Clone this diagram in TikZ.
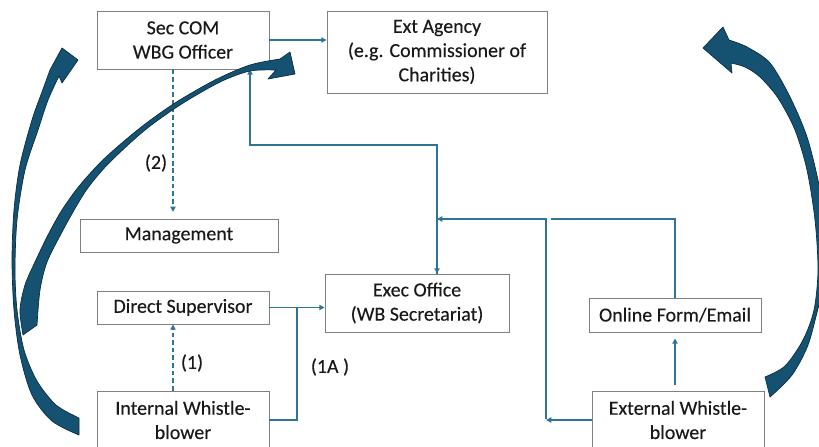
\documentclass[tikz,border=0pt]{standalone}
\usepackage{fontspec}
\setmainfont{Carlito}
\newfontfamily\boxfont{Carlito}[FakeBold=0.2]
\usetikzlibrary{arrows.meta,calc}
\definecolor{connc}{RGB}{46,116,150}
\definecolor{bigfill}{RGB}{21,82,114}
\definecolor{bigline}{RGB}{10,45,66}
\definecolor{boxline}{RGB}{128,128,128}
\definecolor{txt}{RGB}{25,25,25}
\begin{document}
\begin{tikzpicture}[x=0.03cm,y=-0.03cm,
  box/.style={draw=boxline,line width=0.8pt,fill=white,inner sep=0pt,align=center,text=txt,font=\boxfont\fontsize{17}{20.7}\selectfont},
  conn/.style={draw=connc,line width=1.2pt},
  tip/.style={-{Triangle[length=4.5pt,width=4.5pt]}},
  dsh/.style={dash pattern=on 4pt off 2.5pt},
  big/.style={fill=bigfill,draw=bigline,line width=0.6pt,line join=round},
  lbl/.style={text=txt,inner sep=0pt,font=\boxfont\fontsize{17}{20.7}\selectfont}]
\useasboundingbox (0,0) rectangle (819,446);
\clip (0,0) rectangle (819,446);
\fill[white] (0,0) rectangle (819,446);

% boxes
\node[box,minimum width=5.16cm,minimum height=1.74cm] (seccom) at (183,40) {Sec COM\\WBG Officer};
\node[box,minimum width=6.6cm,minimum height=2.46cm] (ext) at (437,52) {Ext Agency\\(e.g. Commissioner of\\Charities)};
\node[box,minimum width=5.94cm,minimum height=0.99cm] (mgmt) at (179,235.5) {Management};
\node[box,minimum width=5.16cm,minimum height=0.99cm] (dsup) at (183,307.5) {Direct Supervisor};
\node[box,minimum width=5.52cm,minimum height=1.74cm] (exec) at (417,303) {Exec Office\\(WB Secretariat)};
\node[box,minimum width=5.16cm,minimum height=1.74cm] (iwb) at (183,420) {Internal Whistle-\\blower};
\node[box,minimum width=5.16cm,minimum height=1.02cm] (online) at (675,315) {Online Form/Email};
\node[box,minimum width=5.16cm,minimum height=1.74cm] (ewb) at (678,420) {External Whistle-\\blower};

% coordinates
\coordinate (dx) at (173,0);
\coordinate (k1) at (437,145);
\coordinate (k2) at (250,145);
\coordinate (j) at (437,219);
\coordinate (o1) at (675,219);
\coordinate (o2) at (551,219);
\coordinate (e1) at (546,419);
\coordinate (e2) at (546,219);
\coordinate (m1) at (297,0);

% connectors
\draw[conn,tip] (seccom.east) -- (seccom.east -| ext.west);
\draw[conn,dsh,tip,shorten >=0.2cm] (seccom.south -| dx) -- (mgmt.north -| dx);
\draw[conn,dsh,tip] (iwb.north -| dx) -- (dsup.south -| dx);
\draw[conn,tip] (exec.north -| k1) -- (k1) -- (k2) -- (seccom.south -| k2);
\draw[conn,tip] (j) -- (exec.north -| j);
\draw[conn] (online.north -| o1) -- (o1) -- (o2);
\draw[conn,tip] (ewb.west) -- (ewb.west -| e1);
\draw[conn,tip] (e1) -- (e2) -- (j);
\draw[conn,tip,shorten <=0.18cm,shorten >=0.18cm] (ewb.north -| o1) -- (online.south -| o1);
\draw[conn,tip] (dsup.east) -- (dsup.east -| exec.west);
\draw[conn] (iwb.east) -| (m1 |- dsup.east);

% labels
\node[lbl] (l2) at (156,163) {(2)};
\node[lbl] (l1) at (192,363) {(1)};
\node[lbl] (l1a) at (330,367) {(1A )};

% big curved arrow B (left middle to top)
\filldraw[big] plot[smooth] coordinates {(23,335) (20,310) (25,285) (35,262) (48,235) (62,210) (80,185) (105,158) (140,128) (175,103) (215,80) (250,65) (280,59)}
  -- (290,52) -- (295,74) -- (268,79) -- (276,70)
  -- plot[smooth] coordinates {(276,70) (250,71) (220,82) (180,105) (145,130) (110,162) (90,185) (77,205) (62,232) (47,262) (40,290) (37,325)}
  -- cycle;
% big curved arrow A (internal whistle-blower to Sec COM)
\filldraw[big] plot[smooth] coordinates {(79,435) (52,421) (32,395) (20,355) (14,310) (12,260) (14,210) (20,165) (32,120) (42,92) (50,70)}
  -- (62,48) -- (78,60) -- (62,83) -- (59,76)
  -- plot[smooth] coordinates {(59,76) (48,100) (38,130) (25,170) (17,220) (15,270) (17,310) (24,350) (37,381) (56,405) (79,418)}
  -- cycle;
% big curved arrow C (right side)
\filldraw[big] plot[smooth] coordinates {(729,40) (747,47) (770,63) (790,97) (807,137) (819,185) (828,240) (827,280) (819,305) (808,345) (792,375) (770,397)}
  -- (765,377)
  -- plot[smooth] coordinates {(765,377) (785,366) (803,340) (814,310) (818,270) (815,220) (807,170) (795,130) (778,98) (760,77) (745,67) (731,63)}
  -- (732,73) -- (703,48) -- (723,27) -- cycle;
\end{tikzpicture}
\end{document}
